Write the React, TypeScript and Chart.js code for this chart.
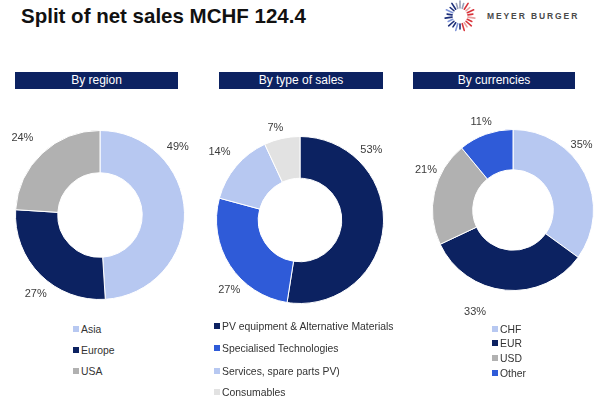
import React, { useEffect, useRef } from "react";
import { Chart, registerables } from "chart.js";

Chart.register(...registerables);

// ---------- data ----------
const regionLabels = ["Asia", "Europe", "USA"];
const regionValues = [49, 27, 24];

const salesTypeLabels = [
  "PV equipment & Alternative Materials",
  "Specialised Technologies",
  "Services, spare parts PV)",
  "Consumables",
];
const salesTypeValues = [53, 27, 14, 7];

const currencyLabels = ["CHF", "EUR", "USD", "Other"];
const currencyValues = [35, 33, 21, 11];

const titleText = "Split of net sales MCHF 124.4";
const panelTitles = ["By region", "By type of sales", "By currencies"];

// ---------- styles ----------
const NAVY = "#0c2261";
const LIGHT_BLUE = "#b7c8f1";
const GREY = "#b1b1b1";
const MED_BLUE = "#2f5bd8";
const LIGHT_GREY = "#e2e2e2";

const regionColors = [LIGHT_BLUE, NAVY, GREY];
const salesTypeColors = [NAVY, MED_BLUE, LIGHT_BLUE, LIGHT_GREY];
const currencyColors = [LIGHT_BLUE, NAVY, GREY, MED_BLUE];

const FONT = "'Liberation Sans', Arial, Helvetica, sans-serif";

const outLabelsPlugin = {
  id: "outLabels",
  afterDatasetsDraw(chart: any, _args: any, opts: any) {
    const meta = chart.getDatasetMeta(0);
    const ds = chart.data.datasets[0];
    const ctx = chart.ctx;
    ctx.save();
    ctx.font = "11px " + FONT;
    ctx.fillStyle = "#3c3c3c";
    ctx.textAlign = "center";
    ctx.textBaseline = "middle";
    meta.data.forEach((arc: any, i: number) => {
      const p = arc.getProps(["x", "y", "outerRadius"], true);
      const a = ((opts.angles[i] - 90) * Math.PI) / 180;
      const d = p.outerRadius * opts.dists[i];
      ctx.fillText(ds.data[i] + "%", p.x + Math.cos(a) * d, p.y + Math.sin(a) * d);
    });
    ctx.restore();
  },
};

type DonutProps = {
  labels: string[];
  values: number[];
  colors: string[];
  angles: number[];
  dists: number[];
  left: number;
  top: number;
  width: number;
  height: number;
  padding: { left: number; right: number; top: number; bottom: number };
};

function Donut(props: DonutProps) {
  const ref = useRef<HTMLCanvasElement>(null);
  useEffect(() => {
    const chart = new Chart(ref.current as HTMLCanvasElement, {
      type: "doughnut",
      data: {
        labels: props.labels,
        datasets: [
          {
            data: props.values,
            backgroundColor: props.colors,
            borderColor: "#ffffff",
            borderWidth: 1,
          },
        ],
      },
      options: {
        responsive: false,
        maintainAspectRatio: false,
        animation: false,
        cutout: "50%",
        layout: { padding: props.padding },
        plugins: {
          legend: { display: false },
          tooltip: { enabled: false },
          outLabels: { angles: props.angles, dists: props.dists },
        } as any,
      },
      plugins: [outLabelsPlugin as any],
    });
    return () => chart.destroy();
  }, []);
  return (
    <canvas
      ref={ref}
      width={props.width}
      height={props.height}
      style={{
        position: "absolute",
        left: props.left,
        top: props.top,
        width: props.width,
        height: props.height,
      }}
    />
  );
}

function Header({ text, left, width }: { text: string; left: number; width: number }) {
  return (
    <div
      style={{
        position: "absolute",
        left,
        top: 72,
        width,
        height: 17,
        background: NAVY,
        color: "#fff",
        fontFamily: FONT,
        fontSize: 12,
        lineHeight: "17px",
        textAlign: "center",
      }}
    >
      {text}
    </div>
  );
}

function Legend({
  labels,
  colors,
  left,
  ys,
}: {
  labels: string[];
  colors: string[];
  left: number;
  ys: number[];
}) {
  return (
    <>
      {labels.map((l, i) => (
        <div
          key={l}
          style={{
            position: "absolute",
            left,
            top: ys[i] - 7,
            height: 14,
            display: "flex",
            alignItems: "center",
            fontFamily: FONT,
            fontSize: 10.4,
            color: "#333",
            whiteSpace: "nowrap",
          }}
        >
          <span
            style={{
              display: "inline-block",
              width: 6,
              height: 6,
              background: colors[i],
              marginRight: 2,
            }}
          />
          {l}
        </div>
      ))}
    </>
  );
}

function Logo() {
  const rays: JSX.Element[] = [];
  const n = 22;
  for (let i = 0; i < n; i++) {
    const deg = (360 / n) * i;
    const a = ((deg - 90) * Math.PI) / 180;
    const r1 = 8;
    const r2 = i % 2 === 0 ? 15 : 13;
    let color: string;
    if (deg < 20 || deg > 340) color = "#9aa0b8";
    else if (deg < 180) color = i % 3 === 0 ? "#e8a0a0" : "#d8333a";
    else color = i % 3 === 0 ? "#7f95d8" : "#1d2f7a";
    rays.push(
      <line
        key={i}
        x1={16 + Math.cos(a) * r1}
        y1={16 + Math.sin(a) * r1}
        x2={16 + Math.cos(a) * r2}
        y2={16 + Math.sin(a) * r2}
        stroke={color}
        strokeWidth={1.6}
        strokeLinecap="round"
      />
    );
  }
  return (
    <>
      <svg
        width={32}
        height={32}
        style={{ position: "absolute", left: 444, top: 0 }}
      >
        {rays}
      </svg>
      <div
        style={{
          position: "absolute",
          left: 487,
          top: 10,
          fontFamily: FONT,
          fontWeight: "bold",
          fontSize: 8.5,
          letterSpacing: 1.9,
          color: "#4a4a4a",
          whiteSpace: "nowrap",
          lineHeight: "12px",
        }}
      >
        MEYER BURGER
      </div>
    </>
  );
}

export default function App() {
  return (
    <div
      style={{
        position: "absolute",
        left: 0,
        top: 0,
        width: 600,
        height: 397,
        background: "#fff",
        overflow: "hidden",
      }}
    >
      <div
        style={{
          position: "absolute",
          left: 21,
          top: 2,
          fontFamily: FONT,
          fontWeight: "bold",
          fontSize: 20.5,
          color: "#111",
          whiteSpace: "nowrap",
          lineHeight: "28px",
        }}
      >
        {titleText}
      </div>
      <Logo />

      <Header text={panelTitles[0]} left={15} width={163} />
      <Header text={panelTitles[1]} left={219} width={164} />
      <Header text={panelTitles[2]} left={413} width={162} />

      <Donut
        labels={regionLabels}
        values={regionValues}
        colors={regionColors}
        angles={[49, 219, 314.6]}
        dists={[1.22, 1.21, 1.29]}
        left={0}
        top={110}
        width={200}
        height={210}
        padding={{ left: 15, right: 15, top: 20, bottom: 20 }}
      />
      <Donut
        labels={salesTypeLabels}
        values={salesTypeValues}
        colors={salesTypeColors}
        angles={[45.4, 225.4, 310, 345]}
        dists={[1.2, 1.19, 1.26, 1.14]}
        left={200}
        top={115}
        width={200}
        height={210}
        padding={{ left: 16, right: 16, top: 21, bottom: 21 }}
      />
      <Donut
        labels={currencyLabels}
        values={currencyValues}
        colors={currencyColors}
        angles={[46.7, 200.4, 294.7, 340]}
        dists={[1.17, 1.35, 1.19, 1.16]}
        left={403}
        top={105}
        width={200}
        height={210}
        padding={{ left: 29, right: 9, top: 24, bottom: 24 }}
      />

      <Legend labels={regionLabels} colors={regionColors} left={73} ys={[329, 350, 371]} />
      <Legend
        labels={salesTypeLabels}
        colors={salesTypeColors}
        left={214}
        ys={[326, 348, 371, 392]}
      />
      <Legend
        labels={currencyLabels}
        colors={currencyColors}
        left={492}
        ys={[329, 343, 358, 373]}
      />
    </div>
  );
}
